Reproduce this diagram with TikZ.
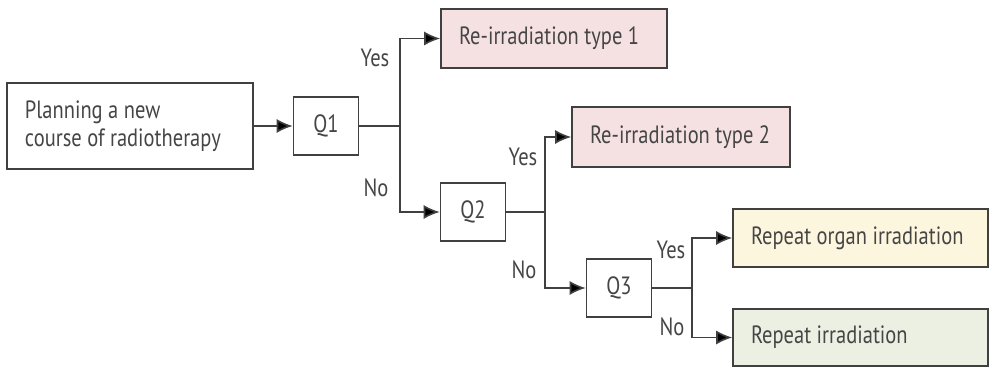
\documentclass[tikz,border=0pt]{standalone}
\usepackage{fontspec}
\setmainfont[FakeStretch=0.82]{PT Sans}
\usetikzlibrary{positioning,arrows.meta}
\definecolor{edge}{HTML}{404040}
\definecolor{txt}{HTML}{454545}
\definecolor{pinkbox}{HTML}{F6E1E2}
\definecolor{yellowbox}{HTML}{FDF6DE}
\definecolor{greenbox}{HTML}{EBF0E3}
\tikzset{caja/.style={draw=edge,line width=0.8pt,text=txt,inner xsep=9pt,align=flush left,font=\fontsize{12.5}{14}\selectfont},
  pregunta/.style={caja,minimum width=32.5pt,minimum height=29pt,inner xsep=2pt,align=center},
  flecha/.style={draw=edge,line width=0.8pt,-{Latex[length=8pt,width=7pt,fill=black]}},
  linea/.style={draw=edge,line width=0.8pt},
  etiqueta/.style={text=txt,font=\fontsize{12.5}{14}\selectfont,inner sep=0pt}}
\begin{document}
\begin{tikzpicture}[x=0.5pt,y=-0.5pt]
\useasboundingbox (0,0) rectangle (990,367);
            \node[caja,minimum width=123pt,minimum height=43pt,text width=105pt] (plan) at (130,126) {Planning a new\\course of radiotherapy};
            \node[pregunta] (q1) at (326,126) {Q1};
            \node[caja,fill=pinkbox,minimum width=113pt,minimum height=29.5pt,text width=95pt] (tipo1) at (554,38.5) {Re-irradiation type 1};
            \node[pregunta] (q2) at (473,212) {Q2};
            \node[caja,fill=pinkbox,minimum width=109pt,minimum height=30pt,text width=91pt] (tipo2) at (681,137) {Re-irradiation type 2};
            \node[pregunta] (q3) at (619,288) {Q3};
            \node[caja,fill=yellowbox,minimum width=127.5pt,minimum height=29pt,text width=109.5pt] (organo) at (860.5,238) {Repeat organ irradiation};
            \node[caja,fill=greenbox,minimum width=127.5pt,minimum height=28.5pt,text width=109.5pt] (repetir) at (860.5,337.5) {Repeat irradiation};

            \coordinate (s1) at (400,126);
            \coordinate (s2) at (545,212);
            \coordinate (s3) at (692,288);

            \draw[flecha] (plan) -- (q1);
            \draw[linea] (q1) -- (s1);
            \draw[flecha] (s1) |- (tipo1);
            \draw[flecha] (s1) |- (q2);
            \draw[linea] (q2) -- (s2);
            \draw[flecha] (s2) |- (tipo2);
            \draw[flecha] (s2) |- (q3);
            \draw[linea] (q3) -- (s3);
            \draw[flecha] (s3) |- (organo);
            \draw[flecha] (s3) |- (repetir);

            \node[etiqueta] (si1) at (375,58) {Yes};
            \node[etiqueta] (no1) at (376,188) {No};
            \node[etiqueta] (si2) at (523,157) {Yes};
            \node[etiqueta] (no2) at (524,270) {No};
            \node[etiqueta] (si3) at (671,250) {Yes};
            \node[etiqueta] (no3) at (672,327) {No};
\end{tikzpicture}
\end{document}
